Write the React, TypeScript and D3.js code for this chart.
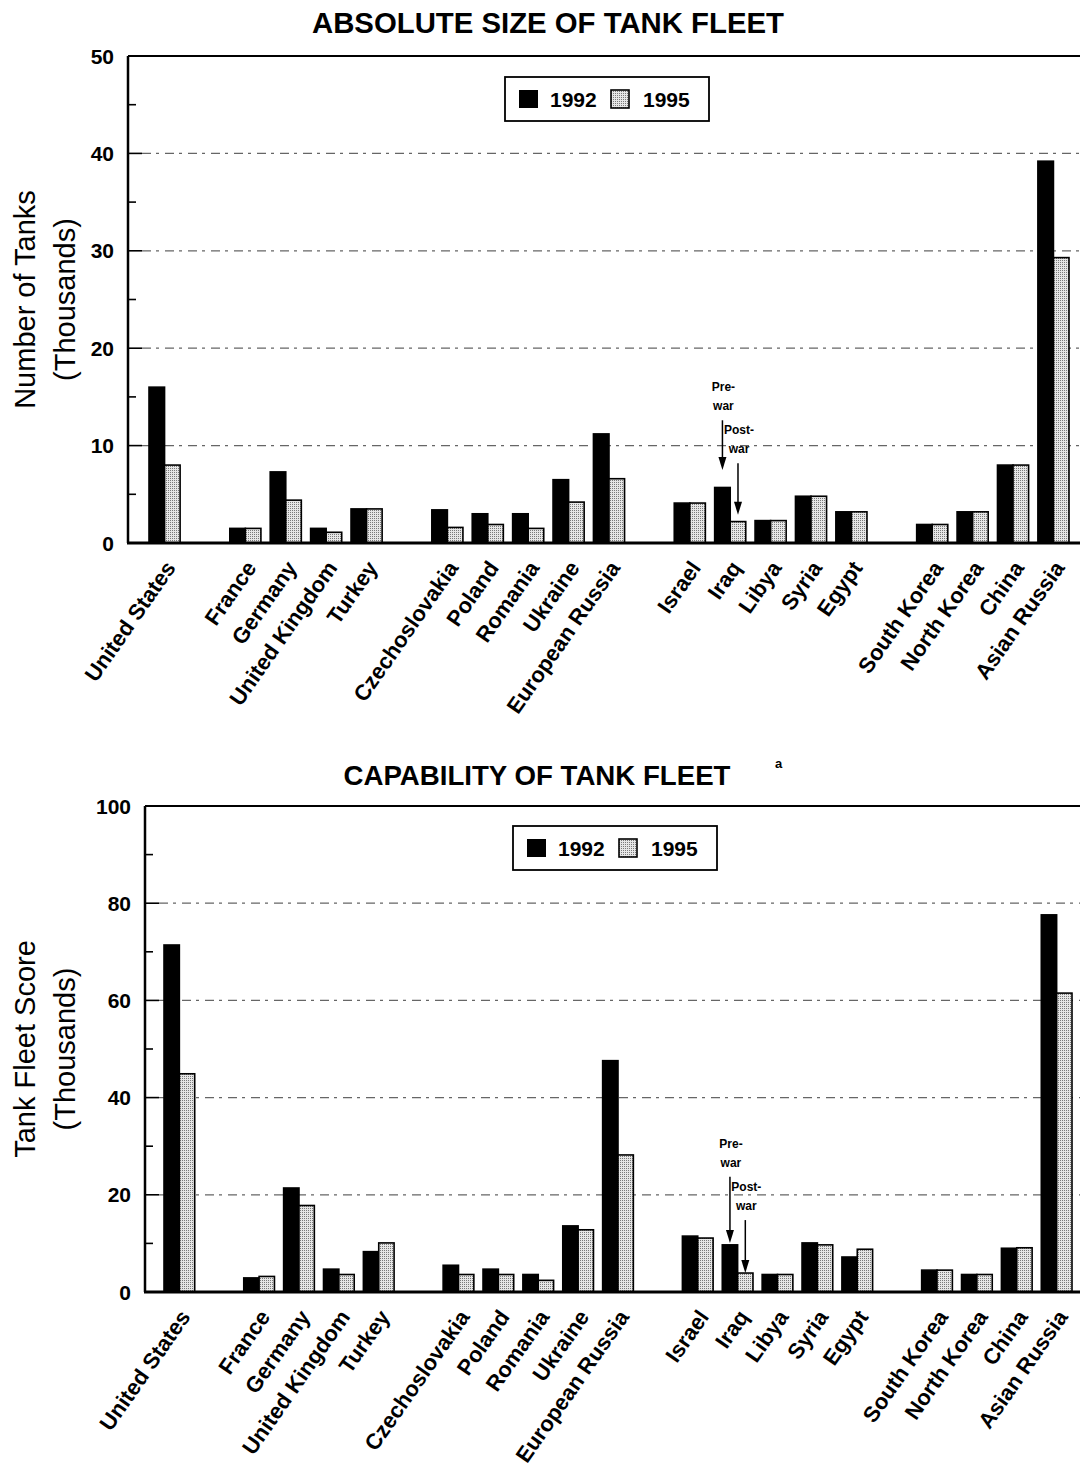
import React, { useEffect, useRef } from 'react';
import * as d3 from 'd3';

// Countries in the order they appear, with the regional group each belongs to
const countries = [
  'United States',
  'France', 'Germany', 'United Kingdom', 'Turkey',
  'Czechoslovakia', 'Poland', 'Romania', 'Ukraine', 'European Russia',
  'Israel', 'Iraq', 'Libya', 'Syria', 'Egypt',
  'South Korea', 'North Korea', 'China', 'Asian Russia',
];
const groupIds = [0, 1, 1, 1, 1, 2, 2, 2, 2, 2, 3, 3, 3, 3, 3, 4, 4, 4, 4];
const years = ['1992', '1995'];

// Absolute size of tank fleet (thousands of tanks)
const tanks1992 = [16.0, 1.5, 7.3, 1.5, 3.5, 3.4, 3.0, 3.0, 6.5, 11.2, 4.1, 5.7, 2.3, 4.8, 3.2, 1.9, 3.2, 8.0, 39.2];
const tanks1995 = [8.0, 1.5, 4.4, 1.1, 3.5, 1.6, 1.9, 1.5, 4.2, 6.6, 4.1, 2.2, 2.3, 4.8, 3.2, 1.9, 3.2, 8.0, 29.3];

// Capability of tank fleet (tank fleet score, thousands)
const score1992 = [71.4, 2.9, 21.4, 4.7, 8.3, 5.5, 4.7, 3.6, 13.6, 47.6, 11.5, 9.7, 3.6, 10.1, 7.2, 4.5, 3.6, 9.0, 77.6];
const score1995 = [44.9, 3.2, 17.8, 3.6, 10.1, 3.6, 3.6, 2.4, 12.8, 28.2, 11.1, 3.9, 3.6, 9.7, 8.8, 4.5, 3.6, 9.1, 61.5];

const tankTicks = [0, 10, 20, 30, 40, 50];
const scoreTicks = [0, 20, 40, 60, 80, 100];

const FONT = "'Liberation Sans', Arial, Helvetica, sans-serif";

interface PanelSpec {
  title: string;
  titleX: number;
  titleY: number;
  titleLength: number;
  titleSize: number;
  footnote?: boolean;
  yLabel: string[];
  left: number;
  top: number;
  bottom: number;
  barStart: number;
  barEnd: number;
  yMax: number;
  ticks: number[];
  v1992: number[];
  v1995: number[];
  legend: { x: number; y: number };
  // Iraq pre-war / post-war arrows, given in data units (start, tip)
  pre: [number, number];
  post: [number, number];
}

function drawPanel(svg: d3.Selection<SVGSVGElement, unknown, null, undefined>, p: PanelSpec) {
  const right = 1092;
  const g = svg.append('g');

  // Build slot list with an empty slot between regional groups
  const slots: string[] = [];
  countries.forEach((c, i) => {
    if (i > 0 && groupIds[i] !== groupIds[i - 1]) slots.push(`gap-${groupIds[i]}`);
    slots.push(c);
  });

  const x = d3.scaleBand<string>()
    .domain(slots)
    .range([p.barStart, p.barEnd])
    .paddingInner(0.23)
    .paddingOuter(0);

  const xYear = d3.scaleBand<string>()
    .domain(years)
    .range([0, x.bandwidth()]);

  const y = d3.scaleLinear()
    .domain([0, p.yMax])
    .range([p.bottom, p.top]);

  // Title
  g.append('text')
    .attr('x', p.titleX)
    .attr('y', p.titleY)
    .attr('text-anchor', 'middle')
    .attr('textLength', p.titleLength)
    .attr('lengthAdjust', 'spacingAndGlyphs')
    .style('font-family', FONT)
    .style('font-size', `${p.titleSize}px`)
    .style('font-weight', 'bold')
    .text(p.title);

  if (p.footnote) {
    g.append('text')
      .attr('x', p.titleX + p.titleLength / 2 + 48)
      .attr('y', p.titleY - 17)
      .attr('text-anchor', 'middle')
      .style('font-family', FONT)
      .style('font-size', '13px')
      .style('font-weight', 'bold')
      .text('a');
  }

  // Gridlines and ticks
  const step = p.ticks[1] - p.ticks[0];
  const minor = d3.range(step / 2, p.yMax, step);
  p.ticks.filter(t => t > 0 && t < p.yMax).forEach(t => {
    g.append('line')
      .attr('x1', p.left + 14)
      .attr('x2', right)
      .attr('y1', y(t))
      .attr('y2', y(t))
      .attr('stroke', '#666')
      .attr('stroke-width', 1.2)
      .attr('stroke-dasharray', '9 5 3 6');
    g.append('line')
      .attr('x1', p.left)
      .attr('x2', p.left + 14)
      .attr('y1', y(t))
      .attr('y2', y(t))
      .attr('stroke', '#000')
      .attr('stroke-width', 1.6);
  });
  minor.forEach(t => {
    g.append('line')
      .attr('x1', p.left)
      .attr('x2', p.left + 8)
      .attr('y1', y(t))
      .attr('y2', y(t))
      .attr('stroke', '#000')
      .attr('stroke-width', 1.6);
  });

  // Tick labels
  p.ticks.forEach(t => {
    g.append('text')
      .attr('x', p.left - 14)
      .attr('y', y(t))
      .attr('dy', '0.36em')
      .attr('text-anchor', 'end')
      .style('font-family', FONT)
      .style('font-size', '21px')
      .style('font-weight', 'bold')
      .text(t);
  });

  // Y axis title (two lines)
  const midY = (p.top + p.bottom) / 2;
  p.yLabel.forEach((line, i) => {
    g.append('text')
      .attr('transform', `translate(${35 + i * 40},${midY}) rotate(-90)`)
      .attr('text-anchor', 'middle')
      .style('font-family', FONT)
      .style('font-size', '29px')
      .text(line);
  });

  // Bars
  const values = [p.v1992, p.v1995];
  countries.forEach((c, i) => {
    years.forEach((yr, k) => {
      const v = values[k][i];
      g.append('rect')
        .attr('x', (x(c) || 0) + (xYear(yr) || 0))
        .attr('y', y(v))
        .attr('width', xYear.bandwidth())
        .attr('height', p.bottom - y(v))
        .attr('fill', k === 0 ? '#000' : 'url(#stipple)')
        .attr('stroke', '#000')
        .attr('stroke-width', 1.6);
    });
  });

  // Frame: left axis, bottom axis, top border
  g.append('line')
    .attr('x1', p.left).attr('x2', p.left)
    .attr('y1', p.top).attr('y2', p.bottom)
    .attr('stroke', '#000').attr('stroke-width', 2.5);
  g.append('line')
    .attr('x1', p.left).attr('x2', right)
    .attr('y1', p.top).attr('y2', p.top)
    .attr('stroke', '#000').attr('stroke-width', 2);
  g.append('line')
    .attr('x1', p.left - 1).attr('x2', right)
    .attr('y1', p.bottom).attr('y2', p.bottom)
    .attr('stroke', '#000').attr('stroke-width', 3);

  // Country labels
  countries.forEach(c => {
    const cx = (x(c) || 0) + x.bandwidth() / 2 + 12;
    g.append('text')
      .attr('transform', `translate(${cx},${p.bottom + 25}) rotate(-55)`)
      .attr('text-anchor', 'end')
      .style('font-family', FONT)
      .style('font-size', '22px')
      .style('font-weight', 'bold')
      .text(c);
  });

  // Legend
  const lg = g.append('g').attr('transform', `translate(${p.legend.x},${p.legend.y})`);
  lg.append('rect')
    .attr('width', 204).attr('height', 44)
    .attr('fill', '#fff').attr('stroke', '#000').attr('stroke-width', 1.8);
  lg.append('rect')
    .attr('x', 14).attr('y', 13).attr('width', 19).attr('height', 18)
    .attr('fill', '#000');
  lg.append('text')
    .attr('x', 45).attr('y', 30)
    .style('font-family', FONT).style('font-size', '21px').style('font-weight', 'bold')
    .text(years[0]);
  lg.append('rect')
    .attr('x', 106).attr('y', 13).attr('width', 18).attr('height', 18)
    .attr('fill', 'url(#stipple)').attr('stroke', '#000').attr('stroke-width', 1.6);
  lg.append('text')
    .attr('x', 138).attr('y', 30)
    .style('font-family', FONT).style('font-size', '21px').style('font-weight', 'bold')
    .text(years[1]);

  // Iraq pre-war / post-war annotation arrows
  const iraq = 'Iraq';
  const notes: { label: string; yr: string; span: [number, number] }[] = [
    { label: 'Pre-', yr: '1992', span: p.pre },
    { label: 'Post-', yr: '1995', span: p.post },
  ];
  notes.forEach(n => {
    const ax = (x(iraq) || 0) + (xYear(n.yr) || 0) + xYear.bandwidth() / 2;
    const y0 = y(n.span[0]);
    const y1 = y(n.span[1]);
    g.append('line')
      .attr('x1', ax).attr('x2', ax)
      .attr('y1', y0).attr('y2', y1 - 10)
      .attr('stroke', '#000').attr('stroke-width', 1.5);
    g.append('path')
      .attr('d', `M${ax - 4},${y1 - 13}L${ax + 4},${y1 - 13}L${ax},${y1}Z`)
      .attr('fill', '#000');
    [n.label, 'war'].forEach((t, j) => {
      g.append('text')
        .attr('x', ax + 1)
        .attr('y', y0 - 29 + j * 19)
        .attr('text-anchor', 'middle')
        .style('font-family', FONT)
        .style('font-size', '12px')
        .style('font-weight', 'bold')
        .text(t);
    });
  });
}

const App: React.FC = () => {
  const svgRef = useRef<SVGSVGElement>(null);

  useEffect(() => {
    if (!svgRef.current) return;
    const svg = d3.select(svgRef.current);
    svg.selectAll('*').remove();

    const pat = svg.append('defs').append('pattern')
      .attr('id', 'stipple')
      .attr('width', 2)
      .attr('height', 2)
      .attr('patternUnits', 'userSpaceOnUse');
    pat.append('rect').attr('width', 2).attr('height', 2).attr('fill', '#e6e6e6');
    pat.append('rect').attr('width', 1).attr('height', 1).attr('fill', '#7a7a7a');

    drawPanel(svg, {
      title: 'ABSOLUTE SIZE OF TANK FLEET',
      titleX: 548,
      titleY: 33,
      titleLength: 472,
      titleSize: 29,
      yLabel: ['Number of Tanks', '(Thousands)'],
      left: 128,
      top: 56,
      bottom: 543,
      barStart: 149,
      barEnd: 1069,
      yMax: 50,
      ticks: tankTicks,
      v1992: tanks1992,
      v1995: tanks1995,
      legend: { x: 505, y: 77 },
      pre: [12.6, 7.5],
      post: [8.2, 2.9],
    });

    drawPanel(svg, {
      title: 'CAPABILITY OF TANK FLEET',
      titleX: 537,
      titleY: 785,
      titleLength: 387,
      titleSize: 28,
      footnote: true,
      yLabel: ['Tank Fleet Score', '(Thousands)'],
      left: 145,
      top: 806,
      bottom: 1292,
      barStart: 164,
      barEnd: 1072,
      yMax: 100,
      ticks: scoreTicks,
      v1992: score1992,
      v1995: score1995,
      legend: { x: 513, y: 826 },
      pre: [23.7, 10.1],
      post: [14.8, 3.9],
    });
  }, []);

  return (
    <div style={{ position: 'absolute', left: 0, top: 0, background: '#fff' }}>
      <svg ref={svgRef} width={1080} height={1474} style={{ display: 'block' }}></svg>
    </div>
  );
};

export default App;
